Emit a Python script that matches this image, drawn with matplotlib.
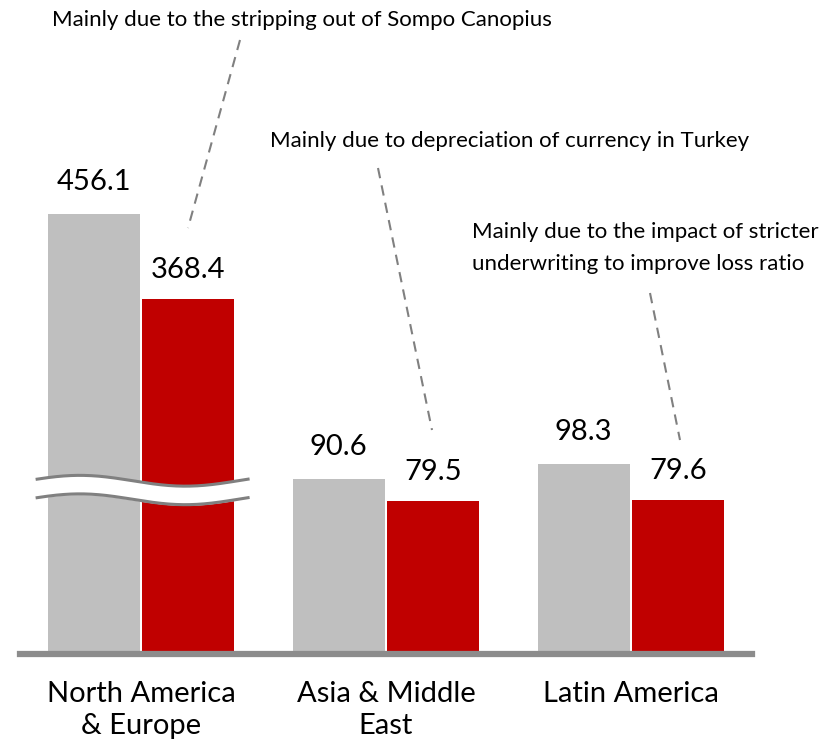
import numpy as np
import matplotlib
matplotlib.use("Agg")
from matplotlib import pyplot as plt
from matplotlib.lines import Line2D

plt.rcParams['font.family'] = ['Lato', 'DejaVu Sans']

# data
regions = ["North America\n& Europe", "Asia & Middle\nEast", "Latin America"]
prev_values = [456.1, 90.6, 98.3]
curr_values = [368.4, 79.5, 79.6]
# the first group is drawn on a compressed (broken) scale
break_scale = [0.5, 1.0, 1.0]
notes = ["Mainly due to the stripping out of Sompo Canopius",
         "Mainly due to depreciation of currency in Turkey",
         "Mainly due to the impact of stricter",
         "underwriting to improve loss ratio"]

GRAY = "#bfbfbf"
RED = "#c00000"
LINE_GRAY = "#808080"

W, H = 833, 745
fig = plt.figure(figsize=(W / 100, H / 100), dpi=100)
ax = fig.add_axes([20 / W, 91 / H, 732 / W, 654 / H])
ax.set_xlim(-0.494, 2.494)
ax.set_ylim(0, 339)
ax.axis("off")


def px(x, y):
    # pixel position (from top-left) -> figure fraction
    return x / W, 1 - y / H


x = np.arange(len(regions))
off = 0.193
bw = 0.376
prev_disp = [v * s for v, s in zip(prev_values, break_scale)]
curr_disp = [v * s for v, s in zip(curr_values, break_scale)]
ax.bar(x - off, prev_disp, bw, color=GRAY, zorder=2)
ax.bar(x + off, curr_disp, bw, color=RED, zorder=2)

for xi, d, v in zip(x - off, prev_disp, prev_values):
    ax.annotate(f"{v:.1f}", (xi, d), xytext=(0, 24), textcoords="offset pixels",
                ha="center", va="baseline", fontsize=21)
for xi, d, v in zip(x + off, curr_disp, curr_values):
    ax.annotate(f"{v:.1f}", (xi, d), xytext=(0, 21), textcoords="offset pixels",
                ha="center", va="baseline", fontsize=21)

# category labels
for xi, name in zip(x, regions):
    ax.annotate(name, (xi, 0), xytext=(0, -27), textcoords="offset pixels",
                ha="center", va="top", fontsize=21, linespacing=1.3)

# baseline
ax.axhline(0, xmin=0, xmax=1, color="#8c8c8c", lw=4.5, clip_on=False, zorder=3)

# break marker on the first group
t = np.linspace(0, 1, 200)
bx = -0.424 + t * (0.437 + 0.424)
wave = 2.8 * np.sin(2 * np.pi * t + 0.3)
yc = 85
ax.fill_between(bx, yc - 4.8 + wave, yc + 4.8 + wave, color="white", zorder=4)
ax.plot(bx, yc + 4.8 + wave, color=LINE_GRAY, lw=2.2, zorder=5)
ax.plot(bx, yc - 4.8 + wave, color=LINE_GRAY, lw=2.2, zorder=5)

# notes and dashed leader lines
fig.text(*px(52, 26), notes[0], fontsize=16, va="baseline", ha="left")
fig.text(*px(270, 147), notes[1], fontsize=16, va="baseline", ha="left")
fig.text(*px(472, 238), notes[2], fontsize=16, va="baseline", ha="left")
fig.text(*px(472, 270), notes[3], fontsize=16, va="baseline", ha="left")

leaders = [((240, 40), (188, 228)), ((378, 168), (432, 430)), ((650, 293), (680, 440))]
for (x0, y0), (x1, y1) in leaders:
    p0, p1 = px(x0, y0), px(x1, y1)
    fig.add_artist(Line2D([p0[0], p1[0]], [p0[1], p1[1]], color=LINE_GRAY,
                          lw=1.5, linestyle=(0, (5, 3.5))))

fig.savefig("out.png", dpi=100)
